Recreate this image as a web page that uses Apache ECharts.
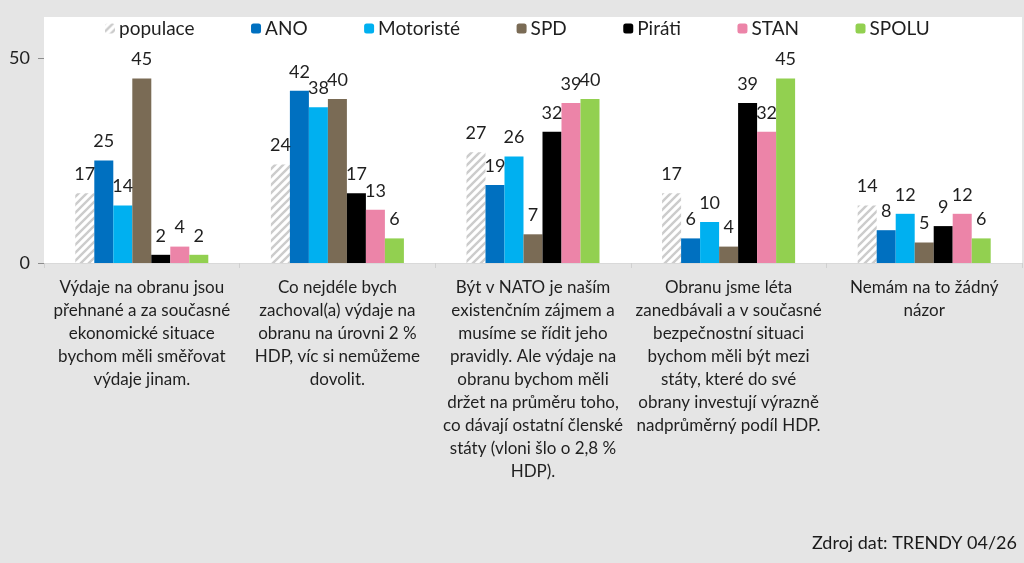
<!DOCTYPE html>
<html>
<head>
<meta charset="utf-8">
<script src="https://cdn.jsdelivr.net/npm/echarts@6/dist/echarts.min.js"></script>
<style>
html, body { margin: 0; padding: 0; background: #e5e5e5; }
#chart { width: 1024px; height: 563px; }
</style>
</head>
<body>
<div id="chart"></div>
<script>
var categories = [
	'Výdaje na obranu jsou\npřehnané a za současné\nekonomické situace\nbychom měli směřovat\nvýdaje jinam.',
	'Co nejdéle bych\nzachoval(a) výdaje na\nobranu na úrovni 2 %\nHDP, víc si nemůžeme\ndovolit.',
	'Být v NATO je naším\nexistenčním zájmem a\nmusíme se řídit jeho\npravidly. Ale výdaje na\nobranu bychom měli\ndržet na průměru toho,\nco dávají ostatní členské\nstáty (vloni šlo o 2,8 %\nHDP).',
	'Obranu jsme léta\nzanedbávali a v současné\nbezpečnostní situaci\nbychom měli být mezi\nstáty, které do své\nobrany investují výrazně\nnadprůměrný podíl HDP.',
	'Nemám na to žádný\nnázor'
];
var populace = [17, 24, 27, 17, 14];
var ano = [25, 42, 19, 6, 8];
var motoriste = [14, 38, 26, 10, 12];
var spd = [45, 40, 7, 4, 5];
var pirati = [2, 17, 32, 39, 9];
var stan = [4, 13, 39, 32, 12];
var spolu = [2, 6, 40, 45, 6];
var yTicks = [0, 50];

//šrafování pro populaci
function hatch() {
	var c = document.createElement('canvas');
	c.width = 8;
	c.height = 8;
	var ctx = c.getContext('2d');
	ctx.fillStyle = '#ffffff';
	ctx.fillRect(0, 0, 8, 8);
	ctx.strokeStyle = '#cccccc';
	ctx.lineWidth = 2.4;
	ctx.beginPath();
	ctx.moveTo(-1, 9); ctx.lineTo(9, -1);
	ctx.moveTo(-1, 1); ctx.lineTo(1, -1);
	ctx.moveTo(7, 9); ctx.lineTo(9, 7);
	ctx.stroke();
	return { image: c, repeat: 'repeat' };
}

var font = 'Lato, "Open Sans", sans-serif';
var labelStyle = {
	show: true,
	position: 'top',
	distance: 10,
	color: '#1f1f1f',
	fontSize: 18,
	fontFamily: font
};
function bar(name, data, color) {
	return {
		name: name,
		type: 'bar',
		data: data,
		barGap: '0%',
		barCategoryGap: '32%',
		itemStyle: { color: color },
		label: labelStyle
	};
}

var myChart = echarts.init(document.getElementById('chart'));
var option = {
	backgroundColor: '#e5e5e5',
	animation: false,
	title: {
		text: 'Zdroj dat: TRENDY 04/26',
		right: 2,
		bottom: 6,
		textStyle: {
			color: '#1a1a1a',
			fontSize: 18,
			fontWeight: 'normal',
			fontFamily: font
		}
	},
	legend: {
		top: 14,
		left: 100,
		itemWidth: 10,
		itemHeight: 10,
		itemGap: 56.5,
		textStyle: {
			color: '#1f1f1f',
			fontSize: 19,
			fontFamily: font,
			padding: [0, 0, 0, -1]
		},
		data: ['populace', 'ANO', 'Motoristé', 'SPD', 'Piráti', 'STAN', 'SPOLU']
	},
	grid: {
		left: 44,
		right: 2,
		top: 17,
		height: 246,
		show: true,
		backgroundColor: '#ffffff',
		borderWidth: 0
	},
	xAxis: {
		type: 'category',
		data: categories,
		axisLine: { lineStyle: { color: '#d9d9d9' } },
		axisTick: { show: true, length: 5, lineStyle: { color: '#d0d0d0' } },
		axisLabel: {
			interval: 0,
			margin: 13,
			color: '#1f1f1f',
			fontSize: 17,
			lineHeight: 23,
			fontFamily: font,
			align: 'center'
		}
	},
	yAxis: {
		type: 'value',
		min: 0,
		max: 60,
		interval: 50,
		splitLine: { show: false },
		axisLine: { show: false },
		axisTick: { show: true, length: 6, customValues: yTicks, lineStyle: { color: '#8c8c8c' } },
		axisLabel: {
			customValues: yTicks,
			margin: 14,
			color: '#1f1f1f',
			fontSize: 18,
			fontFamily: font
		}
	},
	series: [
		bar('populace', populace, hatch()),
		bar('ANO', ano, '#0070c0'),
		bar('Motoristé', motoriste, '#00b0f0'),
		bar('SPD', spd, '#7a6b55'),
		bar('Piráti', pirati, '#000000'),
		bar('STAN', stan, '#ec84a8'),
		bar('SPOLU', spolu, '#92d050')
	]
};
myChart.setOption(option);
window.onresize = function() {
	myChart.resize();
};
</script>
</body>
</html>
